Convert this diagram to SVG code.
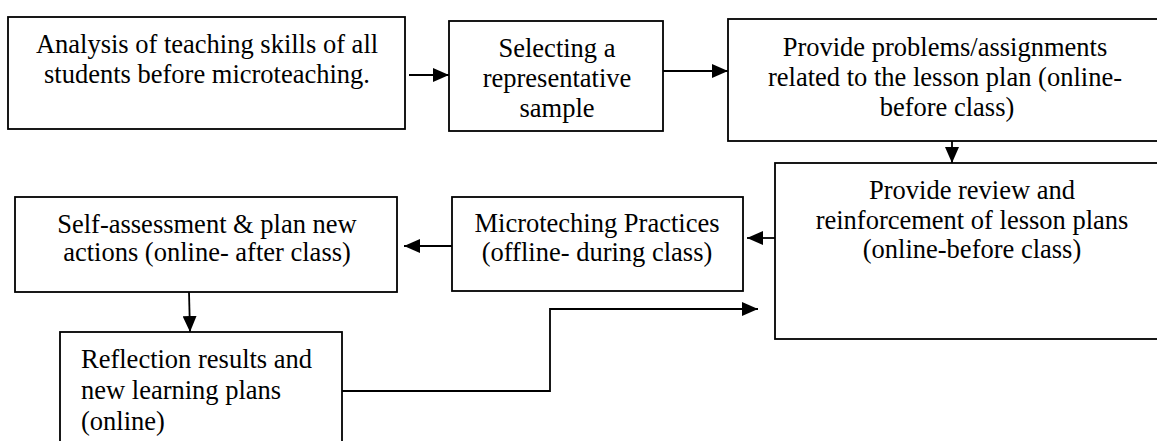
<svg xmlns="http://www.w3.org/2000/svg" width="1157" height="441" viewBox="0 0 1157 441">
  <style>
    .box { fill: #ffffff; stroke: #000000; stroke-width: 1.8; }
    .lbl { font-family: "Liberation Serif", "Times New Roman", serif; font-size: 26.5px; fill: #000000; }
    .mid { text-anchor: middle; }
    .link { fill: none; stroke: #000000; stroke-width: 1.8; marker-end: url(#head); }
  </style>
  <defs>
    <marker id="head" viewBox="0 0 16 14" refX="16" refY="7" markerWidth="16" markerHeight="14" markerUnits="userSpaceOnUse" orient="auto">
      <path d="M0,0 L16,7 L0,14 z" fill="#000000"/>
    </marker>
  </defs>
  <rect width="1157" height="441" fill="#ffffff"/>

  <!-- connectors -->
  <g id="connectors">
    <path class="link" d="M409,75 H449"/>
    <path class="link" d="M663,71 H728"/>
    <path class="link" d="M952,141 V163"/>
    <path class="link" d="M775,238 H747"/>
    <path class="link" d="M452,246 H404"/>
    <path class="link" d="M189,292 L190,332"/>
    <path class="link" d="M342,391 H550 V309 H758"/>
  </g>

  <g id="analysis">
    <rect class="box" x="8" y="17" width="397" height="112"/>
    <text class="lbl mid" x="207" y="53">Analysis of teaching skills of all</text>
    <text class="lbl mid" x="207" y="83">students before microteaching.</text>
  </g>

  <g id="sample">
    <rect class="box" x="449" y="21" width="214" height="110"/>
    <text class="lbl mid" x="557" y="57">Selecting a</text>
    <text class="lbl mid" x="557" y="87">representative</text>
    <text class="lbl mid" x="557" y="117">sample</text>
  </g>

  <g id="assignments">
    <rect class="box" x="728" y="19" width="440" height="122"/>
    <text class="lbl mid" x="945" y="56">Provide problems/assignments</text>
    <text class="lbl mid" x="945" y="86">related to the lesson plan (online-</text>
    <text class="lbl mid" x="947" y="116">before class)</text>
  </g>

  <g id="review">
    <rect class="box" x="775" y="163" width="400" height="176"/>
    <text class="lbl mid" x="972" y="199">Provide review and</text>
    <text class="lbl mid" x="972" y="229">reinforcement of lesson plans</text>
    <text class="lbl mid" x="972" y="258">(online-before class)</text>
  </g>

  <g id="practices">
    <rect class="box" x="452" y="197" width="291" height="94"/>
    <text class="lbl mid" x="597" y="232">Microteching Practices</text>
    <text class="lbl mid" x="597" y="261">(offline- during class)</text>
  </g>

  <g id="self-assessment">
    <rect class="box" x="15" y="197" width="382" height="95"/>
    <text class="lbl mid" x="207" y="233">Self-assessment &amp; plan new</text>
    <text class="lbl mid" x="207" y="261">actions (online- after class)</text>
  </g>

  <g id="reflection">
    <rect class="box" x="60" y="332" width="282" height="130"/>
    <text class="lbl" x="81" y="368">Reflection results and</text>
    <text class="lbl" x="81" y="399">new learning plans</text>
    <text class="lbl" x="81" y="430">(online)</text>
  </g>
</svg>
